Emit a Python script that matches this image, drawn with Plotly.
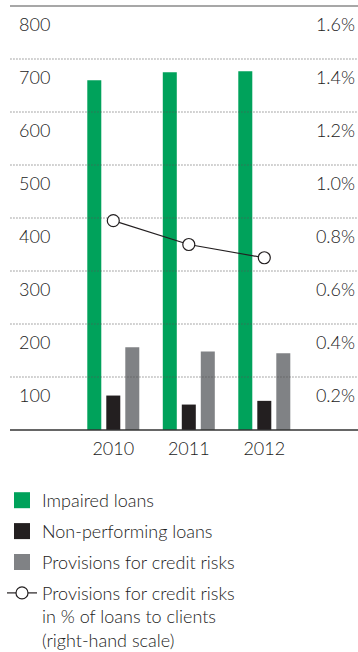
import plotly.graph_objects as go

# --- data -----------------------------------------------------------------
years = ["2010", "2011", "2012"]
impaired_loans = [660, 675, 677]
non_performing_loans = [65, 48, 55]
provisions = [156, 148, 145]
provisions_pct = [0.79, 0.70, 0.65]

left_ticks = [100, 200, 300, 400, 500, 600, 700, 800]
right_ticks = [0.2, 0.4, 0.6, 0.8, 1.0, 1.2, 1.4, 1.6]
right_tick_text = [f"{v:.1f}%" for v in right_ticks]

series_names = [
    "Impaired loans",
    "Non-performing loans",
    "Provisions for credit risks",
]
line_name = "Provisions for credit risks<br>in % of loans to clients<br>(right-hand scale)"

# --- style ----------------------------------------------------------------
GREEN = "#00a25b"
BLACK = "#231f20"
GREY = "#808285"
TEXT = "#222222"
FONT = "Lato"
FS = 18
FW = 300

x_pos = list(range(len(years)))
X_RANGE = [-1.368, 3.241]

fig = go.Figure()

bar_colors = [GREEN, BLACK, GREY]
bar_values = [impaired_loans, non_performing_loans, provisions]
for name, vals, col in zip(series_names, bar_values, bar_colors):
    fig.add_trace(go.Bar(
        x=x_pos, y=vals, name=name, marker=dict(color=col, line=dict(width=0)),
        showlegend=False, hoverinfo="skip",
    ))

# dotted gridlines drawn on top of the bars
gx, gy = [], []
for t in left_ticks[:-1]:
    gx += [X_RANGE[0] - 5, X_RANGE[1] + 5, None]
    gy += [t, t, None]
fig.add_trace(go.Scatter(
    x=gx, y=gy, mode="lines", showlegend=False, hoverinfo="skip",
    line=dict(color="#555555", width=1, dash="1px,2px"),
))

# percentage line on the right-hand scale
fig.add_trace(go.Scatter(
    x=x_pos, y=provisions_pct, yaxis="y2", mode="lines+markers",
    showlegend=False, hoverinfo="skip",
    line=dict(color=BLACK, width=1.2),
    marker=dict(symbol="circle", size=12, color="white",
                line=dict(color=BLACK, width=1.2)),
))

# legend entries (one group each so the group gap spaces the rows)
for i, (name, col) in enumerate(zip(series_names, bar_colors)):
    fig.add_trace(go.Scatter(
        x=[None], y=[None], mode="markers", name=name, legendgroup=f"g{i}",
        marker=dict(symbol="square", size=16, color=col),
    ))
fig.add_trace(go.Scatter(
    x=[None], y=[None], mode="lines+markers", name=line_name, legendgroup="g3",
    line=dict(color=BLACK, width=1.2),
    marker=dict(symbol="circle", size=12, color="white",
                line=dict(color=BLACK, width=1.2)),
))

# top rule and baseline
fig.add_shape(type="line", xref="paper", yref="paper", x0=0, x1=1, y0=1, y1=1,
              line=dict(color="#8a8a8a", width=1.5), layer="above")
fig.add_shape(type="line", xref="paper", yref="paper", x0=0, x1=1, y0=0, y1=0,
              line=dict(color="#333333", width=1.5), layer="above")

tick_font = dict(family=FONT, size=FS, color=TEXT, weight=FW)

fig.update_layout(
    width=358, height=652,
    margin=dict(l=10, r=0, t=6, b=222, autoexpand=False),
    paper_bgcolor="white", plot_bgcolor="white",
    font=dict(family=FONT, size=FS, color=TEXT, weight=FW),
    barmode="group", bargap=0.245, bargroupgap=0.263,
    xaxis=dict(
        range=X_RANGE, tickvals=x_pos, ticktext=years, tickangle=0,
        showgrid=False, zeroline=False, showline=False, ticks="",
        ticklabelstandoff=6, tickfont=tick_font,
    ),
    yaxis=dict(
        range=[0, 800], tickvals=left_ticks, showgrid=False, zeroline=False,
        showline=False, ticks="", ticklabelposition="inside",
        ticklabelshift=19, ticklabelstandoff=6, tickfont=tick_font,
    ),
    yaxis2=dict(
        range=[0, 1.6], tickvals=right_ticks, ticktext=right_tick_text,
        overlaying="y", side="right", showgrid=False, zeroline=False,
        showline=False, ticks="", ticklabelposition="inside",
        ticklabelshift=19, ticklabelstandoff=0, tickfont=tick_font,
    ),
    legend=dict(
        xref="container", yref="container", x=2 / 358, y=1 - 482 / 652,
        xanchor="left", yanchor="top", valign="top",
        font=tick_font,
        bgcolor="rgba(0,0,0,0)", tracegroupgap=4.5,
    ),
)

fig.write_html("out.html")
